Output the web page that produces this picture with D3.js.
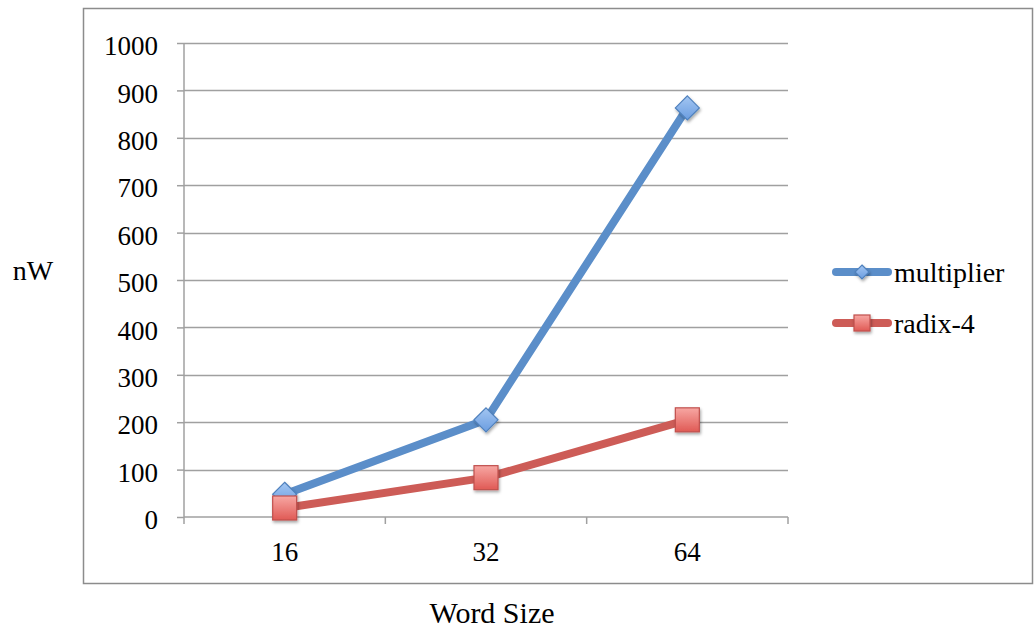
<!DOCTYPE html>
<html><head><meta charset="utf-8">
<script src="https://cdn.jsdelivr.net/npm/d3@7"></script>
</head><body style="margin:0">
<script>
const categories = ["16","32","64"];
const multiplier = [48, 205, 863];
const radix4 = [19, 83, 205];
const yTicks = [0,100,200,300,400,500,600,700,800,900,1000];
const seriesNames = ["multiplier","radix-4"];

const FONT="Liberation Serif";
const W=1035,H=633;
const svg=d3.select("body").append("svg").attr("width",W).attr("height",H).style("display","block")
  .attr("font-family",FONT).style("font-family",`"${FONT}"`);
const defs=svg.append("defs");
const gb=defs.append("linearGradient").attr("id","gblue").attr("x1",0).attr("y1",0).attr("x2",0).attr("y2",1);
gb.append("stop").attr("offset","0").attr("stop-color","#a3c6f2");
gb.append("stop").attr("offset","1").attr("stop-color","#6b9de0");
const gr=defs.append("linearGradient").attr("id","gred").attr("x1",0).attr("y1",0).attr("x2",0).attr("y2",1);
gr.append("stop").attr("offset","0").attr("stop-color","#f7a7a3");
gr.append("stop").attr("offset","1").attr("stop-color","#e05a55");
const f=defs.append("filter").attr("id","sh").attr("x","-50%").attr("y","-50%").attr("width","200%").attr("height","200%");
f.append("feDropShadow").attr("dx",1).attr("dy",2).attr("stdDeviation",1.5).attr("flood-color","#000").attr("flood-opacity",0.35);

function setFont(sel,size){
  sel.attr("font-family",FONT).style("font-family",`"${FONT}"`).attr("font-size",size).style("font-size",size+"px");
}

// frame
svg.append("rect").attr("x",83.5).attr("y",8.5).attr("width",949).attr("height",575)
  .attr("fill","none").attr("stroke","#8c8c8c").attr("stroke-width",1.5);

const x=d3.scaleBand().domain(categories).range([184,788]);
const y=d3.scaleLinear().domain([0,1000]).range([517,43]);

// gridlines
svg.append("g").selectAll("line").data(yTicks.filter(d=>d>0)).join("line")
  .attr("x1",184).attr("x2",788).attr("y1",d=>Math.round(y(d))+0.5).attr("y2",d=>Math.round(y(d))+0.5)
  .attr("stroke","#a0a0a0").attr("stroke-width",1.5);

// y axis
const ya=svg.append("g").attr("transform","translate(184,0)")
  .call(d3.axisLeft(y).tickValues(yTicks).tickSize(7).tickPadding(19).tickFormat(d3.format("d")));
setFont(ya,27);
ya.select(".domain").attr("stroke","#a0a0a0").attr("stroke-width",1.5).attr("d","M0,43V517");
ya.selectAll(".tick line").attr("stroke","#a0a0a0").attr("stroke-width",1.5);
setFont(ya.selectAll("text"),27);
ya.selectAll("text").attr("fill","#000").attr("y",3);

// x axis
const xa=svg.append("g").attr("transform","translate(0,517)")
  .call(d3.axisBottom(x).tickSize(0).tickPadding(25));
setFont(xa,27);
xa.select(".domain").attr("stroke","#a0a0a0").attr("stroke-width",1.5).attr("d","M184,0H788");
setFont(xa.selectAll("text"),27);
xa.selectAll("text").attr("fill","#000");
const bounds=[184].concat(categories.map(c=>x(c)+x.bandwidth()));
svg.append("g").selectAll("line").data(bounds).join("line")
  .attr("x1",d=>d).attr("x2",d=>d).attr("y1",517).attr("y2",524)
  .attr("stroke","#a0a0a0").attr("stroke-width",1.5);

const cx=c=>x(c)+x.bandwidth()/2;
const line=d3.line().x((d,i)=>cx(categories[i])).y(d=>y(d));

function diamond(g,px,py,s){
  g.append("path").attr("d",`M${px},${py-s}L${px+s},${py}L${px},${py+s}L${px-s},${py}Z`)
   .attr("fill","url(#gblue)").attr("stroke","#4f81bd").attr("stroke-width",1.2).attr("filter","url(#sh)");
}
function square(g,px,py,s){
  g.append("rect").attr("x",px-s).attr("y",py-s).attr("width",2*s).attr("height",2*s)
   .attr("fill","url(#gred)").attr("stroke","#c0504d").attr("stroke-width",1.2).attr("filter","url(#sh)");
}

const gm=svg.append("g");
gm.append("path").attr("d",line(multiplier)).attr("fill","none").attr("stroke","#5b8ec9")
  .attr("stroke-width",8).attr("stroke-linejoin","round");
multiplier.forEach((v,i)=>diamond(gm,cx(categories[i]),y(v),12));

const gq=svg.append("g");
gq.append("path").attr("d",line(radix4)).attr("fill","none").attr("stroke","#cd5c57")
  .attr("stroke-width",8).attr("stroke-linejoin","round");
radix4.forEach((v,i)=>square(gq,cx(categories[i]),y(v),12));

// axis titles
setFont(svg.append("text").attr("x",33).attr("y",280).attr("text-anchor","middle").text("nW"),28);
setFont(svg.append("text").attr("x",492).attr("y",623).attr("text-anchor","middle").text("Word Size"),30);

// legend
const leg=svg.append("g");
const ly=[272,323];
[["#5b8ec9",diamond,7],["#cd5c57",square,8]].forEach(([col,mk,s],i)=>{
  leg.append("line").attr("x1",836).attr("x2",888).attr("y1",ly[i]).attr("y2",ly[i])
    .attr("stroke",col).attr("stroke-width",8).attr("stroke-linecap","round");
  mk(leg,862,ly[i],s);
  setFont(leg.append("text").attr("x",894).attr("y",ly[i]+10).text(seriesNames[i]),28);
});
</script>
</body></html>
